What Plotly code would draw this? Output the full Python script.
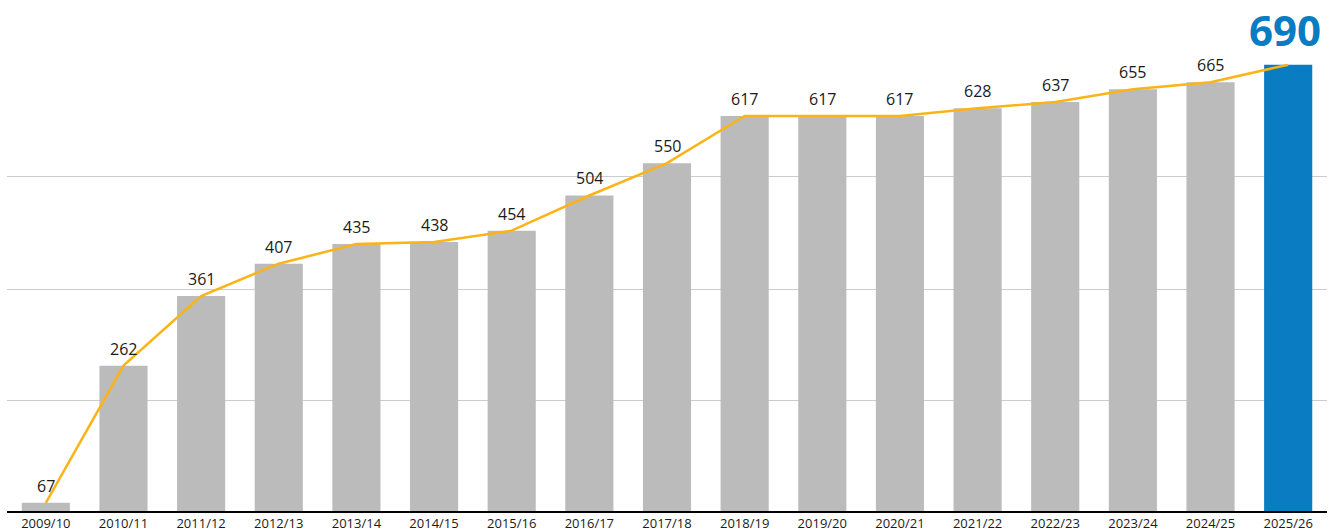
import plotly.graph_objects as go

years = ["2009/10", "2010/11", "2011/12", "2012/13", "2013/14", "2014/15", "2015/16",
         "2016/17", "2017/18", "2018/19", "2019/20", "2020/21", "2021/22", "2022/23",
         "2023/24", "2024/25", "2025/26"]
values = [67, 262, 361, 407, 435, 438, 454, 504, 550, 617, 617, 617, 628, 637, 655, 665, 690]
grid_vals = [211.8, 371.0, 531.7, 691.0]

GRAY = "#bbbbbb"
BLUE = "#0a7cc1"
ORANGE = "#fbb417"

bar_colors = [GRAY] * (len(values) - 1) + [BLUE]

fig = go.Figure()
fig.add_trace(go.Bar(x=years, y=values, marker=dict(color=bar_colors, line=dict(width=0)),
                     hoverinfo="skip", showlegend=False))
fig.add_trace(go.Scatter(x=years, y=values, mode="lines",
                         line=dict(color=ORANGE, width=2.5), hoverinfo="skip",
                         showlegend=False, cliponaxis=False))

for yr, v in zip(years[:-1], values[:-1]):
    fig.add_annotation(x=yr, y=v, text=str(v), showarrow=False, yanchor="bottom",
                       yshift=4, font=dict(size=16, color="#1a1a1a", family="Open Sans"))

fig.add_annotation(x=years[-1], y=values[-1], text="<b>690</b>", showarrow=False,
                   yanchor="middle", yshift=35, xshift=-3, borderpad=0,
                   font=dict(size=42, color=BLUE, family="Open Sans"))

fig.update_layout(
    width=1336, height=532,
    margin=dict(l=7, r=9, t=64, b=21),
    plot_bgcolor="white", paper_bgcolor="white",
    bargap=0.38,
    font=dict(family="Open Sans", color="#1a1a1a"),
    xaxis=dict(showline=True, linecolor="#000000", linewidth=1.5, ticks="",
               tickfont=dict(size=13, color="#1a1a1a"), showgrid=False,
               automargin=False, fixedrange=True),
    yaxis=dict(range=[55.3, 691.0], tickvals=grid_vals, showticklabels=False,
               showgrid=True, gridcolor="#cccccc", gridwidth=1, zeroline=False,
               automargin=False, fixedrange=True),
)

fig.write_html("out.html")
